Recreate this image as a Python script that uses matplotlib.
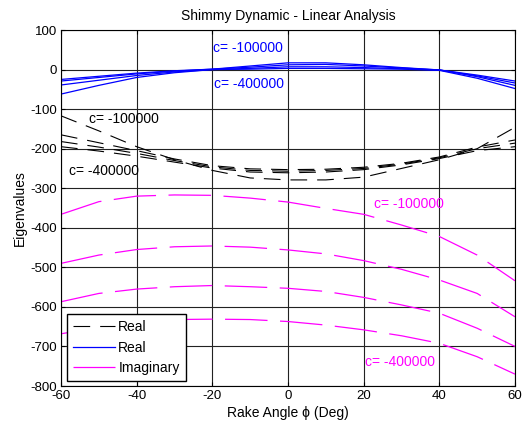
import numpy as np
import matplotlib
matplotlib.use('Agg')
from matplotlib import pyplot as plt

plt.rcParams['font.family'] = ['Liberation Sans', 'DejaVu Sans']
plt.rcParams['font.size'] = 10
plt.rcParams['axes.unicode_minus'] = False

# rake angle samples (deg)
rake = [-60, -50, -40, -30, -20, -10, 0, 10, 20, 30, 40, 50, 60]

# real parts, blue family (c = -100000 ... -400000)
real_blue = [
	[-25, -17, -9, -3, 1, 9, 17, 17, 12, 5, -1, -14, -29],
	[-29, -20, -11, -4, 1, 6, 12, 13, 9, 4, -1, -16, -34],
	[-39, -27, -15, -6, 0, 3, 7, 7, 5, 2, -1, -18, -40],
	[-62, -40, -20, -8, 0, 1, 3, 3, 2, 1, -2, -22, -48],
]

# real parts, black dashed family
real_black = [
	[-117, -155, -195, -228, -255, -274, -279, -279, -272, -250, -228, -200, -146],
	[-165, -185, -205, -226, -243, -251, -253, -252, -247, -237, -221, -196, -178],
	[-182, -196, -212, -230, -246, -255, -257, -255, -250, -239, -223, -200, -186],
	[-195, -206, -219, -234, -249, -259, -261, -259, -253, -241, -225, -205, -195],
]

# imaginary parts, magenta dashed family
imag = [
	[-366, -334, -320, -317, -318, -325, -335, -351, -366, -393, -422, -469, -534],
	[-490, -469, -455, -448, -446, -449, -456, -466, -483, -505, -532, -566, -625],
	[-587, -566, -555, -549, -546, -549, -553, -561, -576, -595, -616, -654, -700],
	[-668, -652, -641, -632, -631, -632, -637, -646, -658, -673, -692, -726, -770],
]

fig = plt.figure(figsize=(5.22, 4.28), dpi=100)
ax = fig.add_axes([61/522, 1-386/428, (515-61)/522, (386-30)/428])

for i, ys in enumerate(real_black):
	ax.plot(rake, ys, color='k', lw=0.8, dashes=(15, 9),
		label='Real' if i == 0 else None)
for i, ys in enumerate(real_blue):
	ax.plot(rake, ys, color='#0000ff', lw=0.9,
		label='Real' if i == 0 else None)
for i, ys in enumerate(imag):
	ax.plot(rake, ys, color='#ff00ff', lw=0.9, dashes=(34, 10),
		label='Imaginary' if i == 0 else None)

ax.text(-19.8, 55, 'c= -100000', color='#0000ff', va='center')
ax.text(-19.6, -37, 'c= -400000', color='#0000ff', va='center')
ax.text(-52.5, -126, 'c= -100000', color='k', va='center')
ax.text(-58, -257, 'c= -400000', color='k', va='center')
ax.text(22.7, -340, 'c= -100000', color='#ff00ff', va='center')
ax.text(20.4, -740, 'c= -400000', color='#ff00ff', va='center')

ax.set_xlim(-60, 60)
ax.set_ylim(-800, 100)
ax.set_xticks(np.arange(-60, 61, 20))
ax.set_yticks(np.arange(-800, 101, 100))
ax.grid(True, color='#222222', lw=0.8)
ax.tick_params(direction='in', top=True, right=True, length=3, labelsize=9.5, pad=3)

ax.set_title('Shimmy Dynamic - Linear Analysis', fontsize=10, pad=7)
ax.set_xlabel('Rake Angle ϕ (Deg)', fontsize=10, labelpad=3)
ax.set_ylabel('Eigenvalues', fontsize=10, labelpad=2)

leg = ax.legend(loc='lower left', bbox_to_anchor=(0.013, 0.014), borderaxespad=0,
	fancybox=False, edgecolor='k', framealpha=1, handlelength=3.0, labelspacing=0.45,
	borderpad=0.45, handletextpad=0.25, fontsize=10)
leg.get_frame().set_linewidth(1.0)

plt.savefig('out.png', dpi=100)
